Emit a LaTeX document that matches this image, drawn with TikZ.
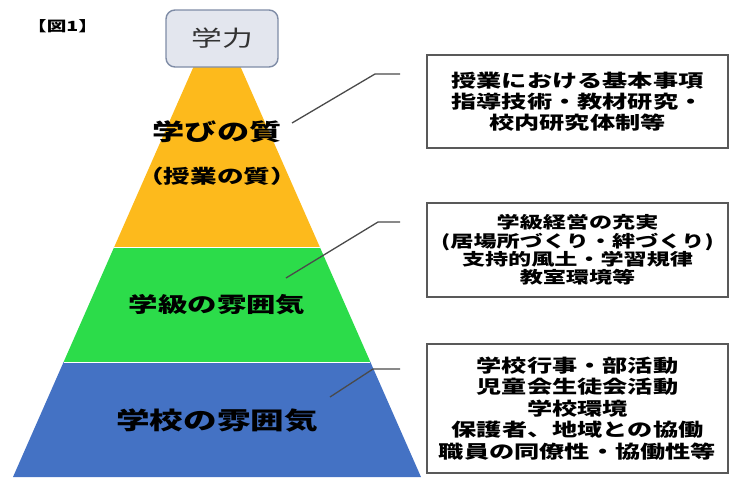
\documentclass[tikz,border=0pt]{standalone}
\usepackage{fontspec}
\newfontfamily\jp[FakeStretch=1.4]{Noto Sans CJK JP}
\definecolor{pyY}{HTML}{FDBA1C}
\definecolor{pyG}{HTML}{2CDC4A}
\definecolor{pyB}{HTML}{4472C4}
\definecolor{topfill}{HTML}{E3E6EE}
\definecolor{topline}{HTML}{7F8CA6}
\definecolor{conn}{HTML}{4A4A4A}
\tikzset{
  infobox/.style={draw=black!65, line width=1.4pt, fill=white},
  boxtext/.style={inner sep=0pt, align=center, font=\jp\bfseries\fontsize{18}{21}\selectfont},
  pylabel/.style={inner sep=0pt, align=center, text=black},
  connector/.style={draw=conn, line width=1.3pt},
  layer/.style={draw=none}
}
\begin{document}
\begin{tikzpicture}[x=1pt,y=-1pt]
\useasboundingbox (0,0) rectangle (733,477);
% pyramid layers
\fill[pyY] (196.5,60) -- (237.5,60) -- (319.8,247) -- (114.2,247) -- cycle;
\fill[pyG] (114.2,247) -- (319.8,247) -- (370.4,362) -- (63.6,362) -- cycle;
\fill[pyB] (63.6,362) -- (370.4,362) -- (421,477) -- (13,477) -- cycle;
\draw[white, line width=0.8pt] (114.2,247) -- (319.8,247);
\draw[white, line width=1pt] (63.6,362) -- (370.4,362);
% top box
\node[draw=topline, fill=topfill, line width=1.4pt, rounded corners=9pt,
      minimum width=112pt, minimum height=57pt, inner sep=0pt,
      text=black!80, font=\jp\fontsize{22}{24}\selectfont] (top) at (222,38.5) {学力};
% title
\node[anchor=west, inner sep=0pt, font=\jp\bfseries\fontsize{14}{16}\selectfont] (title) at (27,26) {【図1】};
% pyramid labels
\node[pylabel, font=\jp\bfseries\fontsize{23}{25}\selectfont] (quality) at (217,132) {学びの質};
\node[pylabel, font=\jp\bfseries\fontsize{19}{21}\selectfont] (lesson) at (217,176) {（授業の質）};
\node[pylabel, font=\jp\bfseries\fontsize{21}{23}\selectfont] (classat) at (217,305) {学級の雰囲気};
\node[pylabel, font=\jp\bfseries\fontsize{24}{26}\selectfont] (schoolat) at (217,421) {学校の雰囲気};
% info boxes
\node[infobox, minimum width=301pt, minimum height=93pt, inner sep=0pt] (b1) at (577.5,101.5) {};
\node[boxtext] (t1) at (b1.center) {授業における基本事項\\指導技術・教材研究・\\校内研究体制等};
\node[infobox, minimum width=301pt, minimum height=94pt, inner sep=0pt] (b2) at (577.5,250) {};
\node[boxtext, font=\jp\bfseries\fontsize{16.5}{18.3}\selectfont] (t2) at (b2.center) {学級経営の充実\\(居場所づくり・絆づくり)\\支持的風土・学習規律\\教室環境等};
\node[infobox, minimum width=301pt, minimum height=129pt, inner sep=0pt] (b3) at (577.5,408.5) {};
\node[boxtext, font=\jp\bfseries\fontsize{18}{21.5}\selectfont] (t3) at (b3.center) {学校行事・部活動\\児童会生徒会活動\\学校環境\\保護者、地域との協働\\職員の同僚性・協働性等};
% connectors
\coordinate (c1s) at (292,123); \coordinate (c1m) at (375,74); \coordinate (c1e) at (400,74);
\coordinate (c2s) at (286,278); \coordinate (c2m) at (378,222); \coordinate (c2e) at (400,222);
\coordinate (c3s) at (330,397); \coordinate (c3m) at (373,369); \coordinate (c3e) at (400,369);
\draw[connector] (c1s) -- (c1m) -- (c1e);
\draw[connector] (c2s) -- (c2m) -- (c2e);
\draw[connector] (c3s) -- (c3m) -- (c3e);
\end{tikzpicture}
\end{document}
